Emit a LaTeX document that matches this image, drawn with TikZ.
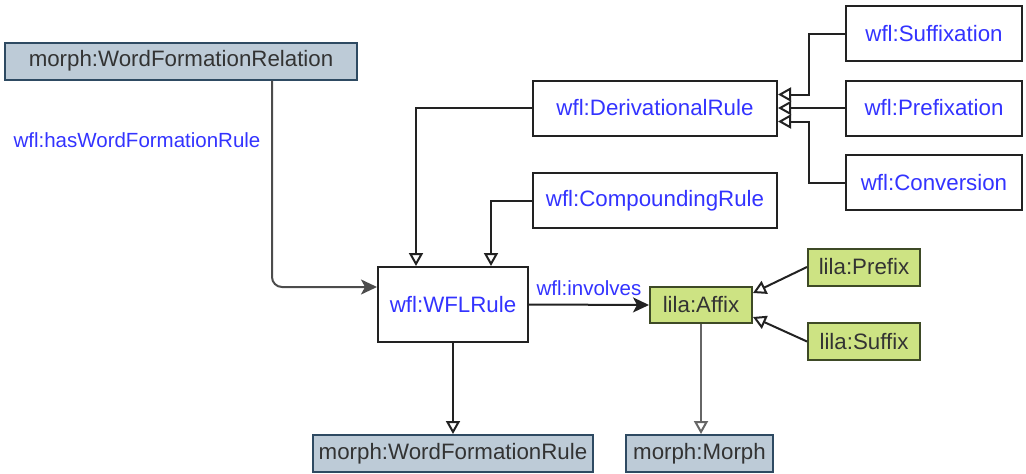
\documentclass[tikz,border=0pt]{standalone}
\usepackage{fontspec}
\setmainfont{Liberation Sans}
\usetikzlibrary{arrows.meta, positioning}
\definecolor{wflblue}{HTML}{3333FF}
\definecolor{morphfill}{HTML}{BDCBD7}
\definecolor{morphline}{HTML}{2E4A62}
\definecolor{lilafill}{HTML}{CDE383}
\definecolor{lilaline}{HTML}{3E4A26}
\definecolor{boxtext}{HTML}{333333}
\definecolor{edgeline}{HTML}{222222}

\begin{document}
\begin{tikzpicture}[
    x=1pt, y=-1pt,
    every node/.style={font=\fontsize{22.3}{26}\selectfont, inner sep=0pt},
    wflbox/.style={draw=edgeline, line width=2pt, fill=white, text=wflblue, minimum width=244pt, minimum height=55pt},
    morphbox/.style={draw=morphline, line width=2pt, fill=morphfill, text=boxtext, minimum height=37pt},
    lilabox/.style={draw=lilaline, line width=2pt, fill=lilafill, text=boxtext, minimum height=37pt},
    lbl/.style={font=\fontsize{20.5}{24}\selectfont, text=wflblue},
    isa/.style={-{Triangle[open, length=13pt, width=14pt]}, line width=2pt, draw=edgeline},
    rel/.style={-{Stealth[length=16pt, width=15pt, inset=4pt]}, line width=2pt, draw=edgeline}
]
    \useasboundingbox (0,0) rectangle (1026,474);

    % classes
    \node[morphbox, minimum width=352pt] (wfrel) at (181,61) {morph:WordFormationRelation};
    \node[wflbox] (deriv) at (655,108) {wfl:DerivationalRule};
    \node[wflbox, minimum width=176pt] (suffixation) at (934,33.5) {wfl:Suffixation};
    \node[wflbox, minimum width=176pt] (prefixation) at (934,108) {wfl:Prefixation};
    \node[wflbox, minimum width=176pt] (conversion) at (934,182.5) {wfl:Conversion};
    \node[wflbox] (compound) at (655,200.5) {wfl:CompoundingRule};
    \node[wflbox, minimum width=150pt, minimum height=75pt] (rule) at (453,304.5) {wfl:WFLRule};
    \node[lilabox, minimum width=102pt, minimum height=36pt] (affix) at (701,305) {lila:Affix};
    \node[lilabox, minimum width=112pt] (lprefix) at (864,267) {lila:Prefix};
    \node[lilabox, minimum width=112pt] (lsuffix) at (864,341.5) {lila:Suffix};
    \node[morphbox, minimum width=280pt] (wfrule) at (453,453.5) {morph:WordFormationRule};
    \node[morphbox, minimum width=147pt] (morph) at (699.5,453.5) {morph:Morph};

    % properties
    \node[lbl] (haslbl) at (137,140) {wfl:hasWordFormationRule};
    \draw[rel, draw=black!70, rounded corners=10pt] ([xshift=91pt]wfrel.south) |- ([yshift=17.5pt]rule.west);
    \draw[rel] (rule.east) -- (affix.west) node[lbl, midway, above=8pt] (involves) {wfl:involves};

    % subclasses
    \draw[isa] (deriv.west) -| ([xshift=-37pt]rule.north);
    \draw[isa] (compound.west) -| ([xshift=38pt]rule.north);
    \draw[isa] (suffixation.west) -- ++(-36,0) |- ([yshift=13.5pt]deriv.east);
    \draw[isa] (prefixation.west) -- (deriv.east);
    \draw[isa] (conversion.west) -- ++(-36,0) |- ([yshift=-13.5pt]deriv.east);
    \draw[isa] (lprefix.west) -- ([yshift=12pt]affix.east);
    \draw[isa] (lsuffix.west) -- ([yshift=-12pt]affix.east);
    \draw[isa] (rule.south) -- (wfrule.north);
    \draw[isa, draw=black!60] (affix.south) -- (affix.south |- morph.north);
\end{tikzpicture}
\end{document}
